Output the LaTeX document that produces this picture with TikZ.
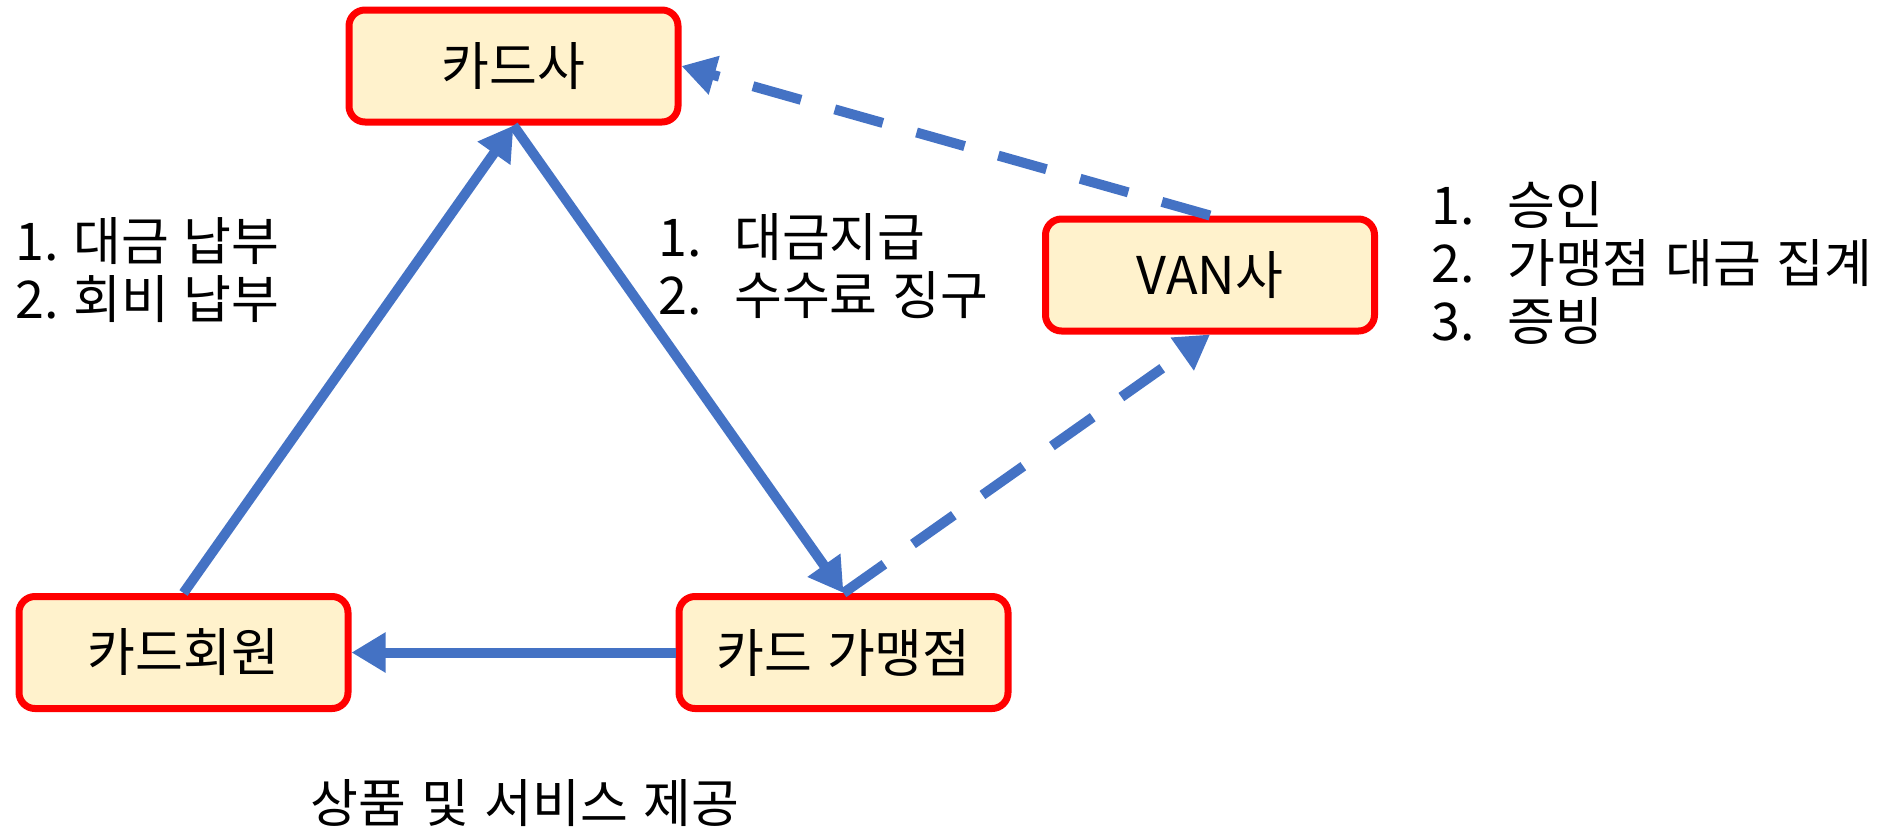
\documentclass[tikz,border=0pt]{standalone}
\usepackage{fontspec}
\setmainfont[WordSpace=1.3]{Noto Sans CJK KR}
\usetikzlibrary{arrows.meta}
\definecolor{boxfill}{HTML}{FFF2CC}
\definecolor{boxline}{HTML}{FF0000}
\definecolor{arrowblue}{HTML}{4472C4}
\tikzset{
  entity/.style={draw=boxline, fill=boxfill, line width=7pt, rounded corners=16pt,
    minimum width=329pt, minimum height=112pt, inner sep=0pt,
    font=\fontsize{52}{60}\selectfont},
  flow/.style={draw=arrowblue, line width=10pt, -{Triangle[length=34pt,width=38pt]}},
  dflow/.style={draw=arrowblue, line width=10pt, dash pattern=on 50pt off 35pt},
  note/.style={inner sep=0pt, align=left, font=\fontsize{52}{58}\selectfont}
}
\newcommand{\numbox}[2]{\makebox[#1][l]{#2}}
\begin{document}
\begin{tikzpicture}[x=1pt,y=-1pt]
\useasboundingbox (0,0) rectangle (1903,828);
\node[entity] (card) at (513.5,66) {카드사};
\node[entity] (van) at (1210,275) {VAN사};
\node[entity] (member) at (183.5,652.5) {카드회원};
\node[entity] (merchant) at (843.5,652.5) {카드 가맹점};

\draw[flow] (member.north) -- (card.south);
\draw[flow] (card.south) -- (merchant.north);
\draw[flow] (merchant.west) -- (member.east);
\draw[dflow, -{Triangle[length=34pt,width=38pt]}] (van.north) -- (card.east);
\draw[dflow, -{Triangle[length=34pt,width=38pt]}] (merchant.north) -- (van.south);

\node[note, anchor=west] (lbl1) at (15,270.5) {\numbox{58pt}{1.}대금 납부\\\numbox{58pt}{2.}회비 납부};
\node[note, anchor=west] (lbl2) at (658,266) {\numbox{76pt}{1.}대금지급\\\numbox{76pt}{2.}수수료 징구};
\node[note, anchor=west] (lbl3) at (1431,263) {\numbox{76pt}{1.}승인\\\numbox{76pt}{2.}가맹점 대금 집계\\\numbox{76pt}{3.}증빙};
\node[note] (lbl4) at (525,803) {상품 및 서비스 제공};
\end{tikzpicture}
\end{document}
